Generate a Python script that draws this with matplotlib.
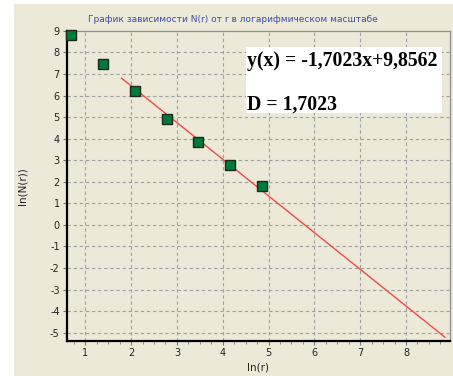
import numpy as np
import matplotlib
matplotlib.use('Agg')
import matplotlib.pyplot as plt
from matplotlib.patches import Rectangle
from matplotlib.ticker import MultipleLocator

# data
ln_r = [0.693, 1.386, 2.079, 2.773, 3.466, 4.159, 4.852]
ln_N = [8.83, 7.48, 6.22, 4.93, 3.85, 2.77, 1.81]
slope, intercept = -1.7023, 9.8562
fit_x = [1.79, 8.85]
x_ticks = [1, 2, 3, 4, 5, 6, 7, 8]
y_ticks = list(range(-5, 10))
title = 'График зависимости N(r) от r в логарифмическом масштабе'
eq_text = 'y(x) = -1,7023x+9,8562'
d_text = 'D = 1,7023'

plt.rcParams['axes.unicode_minus'] = False

W, H = 453, 376
bg = '#ECE9D8'

fig = plt.figure(figsize=(W / 100, H / 100), dpi=100, facecolor='white')
fig.patches.append(Rectangle((14 / W, 0), 1 - 14 / W, 1 - 4 / H,
                             transform=fig.transFigure, facecolor=bg,
                             edgecolor='none', zorder=-10))

ax = fig.add_axes([66.7 / W, (H - 341.3) / H, (450 - 66.7) / W, (341.3 - 30.5) / H])
ax.set_facecolor(bg)

fx = np.array(fit_x)
ax.plot(fx, slope * fx + intercept, color='#F04848', lw=1.0, zorder=3)
ax.plot(ln_r, ln_N, linestyle='none', marker='s', markersize=7.0,
        markerfacecolor='#007A3A', markeredgecolor='#1A2A1A',
        markeredgewidth=1.0, zorder=4, clip_on=False)

ax.set_xlim(0.594, 8.96)
ax.set_ylim(-5.4, 9.02)
ax.set_xticks(x_ticks)
ax.set_yticks(y_ticks)
ax.xaxis.set_minor_locator(MultipleLocator(0.25))
ax.grid(True, which='major', color='#A0A0A0', linestyle=(0, (3, 2.5)), lw=0.8)
ax.tick_params(which='major', direction='out', length=3, width=0.8,
               colors='#777777', labelcolor='#222222', labelsize=7, pad=2)
ax.tick_params(which='minor', direction='out', length=2, width=0.6, colors='#777777')

for s in ['left', 'bottom']:
    ax.spines[s].set_color('black')
    ax.spines[s].set_linewidth(1.6)
for s in ['top', 'right']:
    ax.spines[s].set_color('#909090')
    ax.spines[s].set_linewidth(0.9)

ax.set_xlabel('ln(r)', fontsize=7.5, color='#222222', labelpad=3)
ax.set_ylabel('ln(N(r))', fontsize=7.5, color='#222222', labelpad=16)

fig.text(233 / W, 1 - 19 / H, title, ha='center', va='center',
         fontsize=6.5, color='#3A4EA8')

fig.patches.append(Rectangle((245.7 / W, 1 - 113 / H), 196 / W, 66.3 / H,
                             transform=fig.transFigure, facecolor='white',
                             edgecolor='none', zorder=5))
fig.text(247 / W, 1 - 61 / H, eq_text, ha='left', va='center',
         fontsize=14.2, fontweight='bold', family='Liberation Serif', zorder=6)
fig.text(247 / W, 1 - 104.5 / H, d_text, ha='left', va='center',
         fontsize=14.2, fontweight='bold', family='Liberation Serif', zorder=6)

fig.savefig('out.png', dpi=100, facecolor='white')
